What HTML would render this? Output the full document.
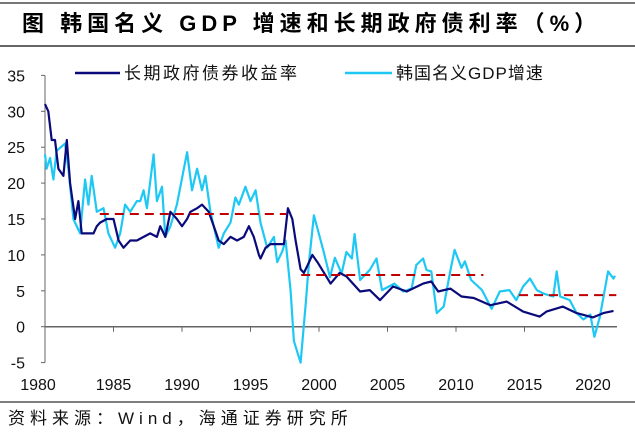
<!DOCTYPE html>
<html><head><meta charset="utf-8"><style>
body{margin:0;width:635px;height:435px;background:#fff;overflow:hidden;font-family:"Liberation Sans","Noto Sans CJK SC",sans-serif}
</style></head><body>
<svg width="635" height="435" xmlns="http://www.w3.org/2000/svg" font-family="Liberation Sans, Noto Sans CJK SC, sans-serif">
<line x1="0" y1="3" x2="635" y2="3" stroke="#777" stroke-width="2"/>
<text x="22" y="31" font-size="22" font-weight="bold" letter-spacing="5" fill="#000">图  韩国名义 GDP 增速和长期政府债利率（%）</text>
<line x1="0" y1="46" x2="635" y2="46" stroke="#333" stroke-width="1.5"/>
<g id="legend">
<line x1="75" y1="73" x2="120" y2="73" stroke="#0a0a7a" stroke-width="2.5"/>
<text x="124" y="79" font-size="17" letter-spacing="2.5" fill="#111">长期政府债券收益率</text>
<line x1="345" y1="73" x2="392" y2="73" stroke="#1ec8f4" stroke-width="2.5"/>
<text x="396" y="79" font-size="17" letter-spacing="1" fill="#111">韩国名义GDP增速</text>
</g>
<g id="axes"></g>
<g id="marks"></g>
<line x1="0" y1="402" x2="635" y2="402" stroke="#555" stroke-width="1.5"/>
<text x="8" y="424" font-size="17" letter-spacing="5" fill="#111">资料来源：Wind，海通证券研究所</text>
</svg>
<script>
const yTicks=[-5,0,5,10,15,20,25,30,35];
const xTicks=[1980,1985,1990,1995,2000,2005,2010,2015,2020];
const bondYears=[1980.0,1980.24,1980.49,1980.73,1980.98,1981.34,1981.59,1981.83,1982.2,1982.44,1982.68,1983.05,1983.54,1983.78,1984.02,1984.51,1985.0,1985.37,1985.73,1986.22,1986.71,1987.2,1987.68,1988.17,1988.41,1988.78,1989.15,1989.63,1990.0,1990.37,1990.61,1991.1,1991.46,1991.95,1992.32,1992.68,1993.05,1993.54,1994.02,1994.51,1994.88,1995.24,1995.61,1995.73,1996.1,1996.46,1996.95,1997.44,1997.73,1998.05,1998.29,1998.66,1998.9,1999.15,1999.51,1999.88,2000.37,2000.85,2001.5,2002.0,2003.0,2003.7,2004.45,2005.4,2006.4,2007.6,2008.2,2008.7,2009.6,2010.4,2011.3,2012.5,2013.7,2014.9,2016.1,2016.6,2017.8,2018.8,2020.0,2020.75,2021.5];
const bondValues=[31,30,26,26,22,21,26,20,15,17.5,13,13,13,14,14.5,15,15,12,11,12,12,12.5,13,12.5,14,12.5,16,15,14,15,16,16.5,17,16,14,12,11.5,12.5,12,12.5,14,12.5,10,9.5,11,11.5,11.5,11.5,16.5,15,12,8,7.5,8.5,10,9,7.5,6,7.5,7,4.9,5.1,3.7,5.6,4.9,6.0,6.3,4.9,5.3,4.2,4.0,3.0,3.5,2.1,1.4,2.1,2.8,1.9,1.3,1.9,2.2];
const gdpYears=[1980,1980.12,1980.37,1980.61,1980.85,1981.46,1981.71,1982.07,1982.56,1982.93,1983.17,1983.41,1983.78,1984.27,1984.63,1985.12,1985.49,1985.85,1986.22,1986.71,1986.95,1987.2,1987.44,1987.93,1988.17,1988.54,1988.78,1989.15,1989.63,1990.37,1990.73,1991.1,1991.46,1991.71,1992.07,1992.44,1992.68,1993.05,1993.54,1993.9,1994.15,1994.63,1995.0,1995.37,1995.73,1996.22,1996.71,1996.95,1997.32,1997.56,1997.93,1998.17,1998.66,1999.02,1999.27,1999.63,2000.31,2000.8,2001.16,2001.65,2002.0,2002.4,2002.6,2003.0,2003.7,2004.2,2004.6,2005.5,2006.15,2006.76,2007.1,2007.6,2007.85,2008.2,2008.6,2009.1,2009.6,2009.9,2010.4,2010.65,2011.1,2011.9,2012.6,2013.2,2013.9,2014.4,2014.9,2015.4,2015.9,2016.4,2017.1,2017.35,2017.6,2018.3,2018.8,2019.3,2019.8,2020.1,2020.5,2021.1,2021.5,2021.6];
const gdpValues=[24,22,23.5,20.5,24.5,25.5,22,15,13,20.5,17,21,16,16.5,13,11,13,17,16,17.5,17.5,19,16.5,24,17.5,19.5,12.5,14,17,24.3,19,22,19,21,16,13,11,13,14.5,18,17,19.5,17.5,19,14.5,11,12.5,9,10.5,12,5,-2,-5,3,9,15.5,10.7,6.9,9.6,7.4,10.4,9.5,12.9,6.5,7.9,9.5,5.1,6.0,4.9,5.3,8.6,9.5,7.9,7.7,1.9,2.8,7.9,10.7,8.2,9.1,6.5,5.1,2.5,4.9,5.1,3.7,5.6,6.7,5.1,4.6,4.2,7.7,4.2,3.7,1.9,1.0,1.7,-1.4,1.4,7.7,6.7,7.1];
const avgStart=[1984.0,1998.7,2014.6];
const avgEnd=[1997.6,2012.0,2021.7];
const avgValues=[15.7,7.2,4.4];

const NS='http://www.w3.org/2000/svg';
const X0=45,PXY=13.7,Y0=326.7,PXV=7.18;
const xs=y=>X0+(y-1980)*PXY;
const ys=v=>Y0-v*PXV;
function mk(tag,attrs,parent){const e=document.createElementNS(NS,tag);for(const k in attrs)e.setAttribute(k,attrs[k]);parent.appendChild(e);return e;}
const ax=document.getElementById('axes'),mg=document.getElementById('marks');
const yAxis=mk('line',{x1:X0,y1:ys(35),x2:X0,y2:ys(-5),stroke:'#666','stroke-width':1},ax);


yTicks.forEach(t=>{
  const l=mk('line',{x1:X0-4,y1:ys(t),x2:X0,y2:ys(t),stroke:'#666'},ax);
  
  
  const tx=mk('text',{x:X0-20,y:ys(t)+6,'font-size':16,'text-anchor':'end',fill:'#111'},ax);
  tx.textContent=t;
  
  
});
const xAxis=mk('line',{x1:X0,y1:ys(0),x2:617,y2:ys(0),stroke:'#666','stroke-width':1.5},ax);


xTicks.forEach(t=>{
  const l=mk('line',{x1:xs(t),y1:ys(0),x2:xs(t),y2:ys(0)+5,stroke:'#666'},ax);
  
  
  const tx=mk('text',{x:xs(t)-(t===1980?7:0),y:390,'font-size':16,'text-anchor':'middle',fill:'#111'},ax);
  tx.textContent=t;
  
  
});
function pts(yr,vals){return yr.map((y,i)=>xs(y).toFixed(1)+','+ys(vals[i]).toFixed(1)).join(' ');}
const g=mk('polyline',{points:pts(gdpYears,gdpValues),fill:'none',stroke:'#1ec8f4','stroke-width':2.2,'stroke-linejoin':'round'},mg);


const b=mk('polyline',{points:pts(bondYears,bondValues),fill:'none',stroke:'#0a0a7a','stroke-width':2.2,'stroke-linejoin':'round'},mg);


avgValues.forEach((v,i)=>{
  const l=mk('line',{x1:xs(avgStart[i]),y1:ys(v),x2:xs(avgEnd[i]),y2:ys(v),stroke:'#c00000','stroke-width':2,'stroke-dasharray':'9,6'},mg);
  
  
});
</script>
</body></html>
